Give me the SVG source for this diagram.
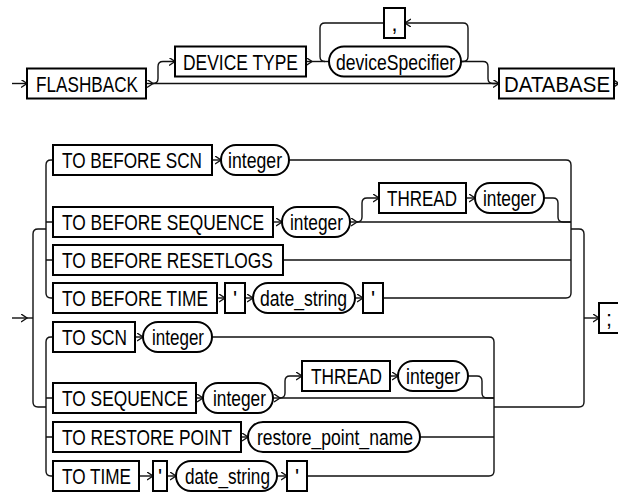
<svg xmlns="http://www.w3.org/2000/svg" width="618" height="495" viewBox="0 0 618 495">
<style>
  .box { fill: #fff; stroke: #000; stroke-width: 2; }
  .ov { fill: #fff; stroke: #000; stroke-width: 2; }
  .ln { fill: none; stroke: #111; stroke-width: 1.4; }
  .ar { fill: none; stroke: #111; stroke-width: 1.4; marker-end: url(#arr); }
  text { font-family: "Liberation Sans", Arial, sans-serif; font-size: 21.5px; fill: #000; }
  .c { text-anchor: middle; }
</style>
<defs>
  <marker id="arr" markerWidth="8" markerHeight="10" refX="6" refY="4" orient="auto" markerUnits="userSpaceOnUse">
    <path d="M0,0 L6,4 L0,8" fill="none" stroke="#111" stroke-width="1.4"/>
  </marker>
</defs>
<rect width="618" height="495" fill="#fff"/>

<g id="connectors">
  <path class="ar" d="M12,83.5 H27"/>
  <path class="ar" d="M146,83.5 H153"/>
  <path class="ar" d="M153,83.5 H499"/>
  <path class="ar" d="M153,83.5 q5,0 5,-5 V66.5 q0,-5 5,-5 H175"/>
  <path class="ar" d="M306,61.5 H312"/>
  <path class="ln" d="M312,61.5 H329"/>
  <path class="ar" d="M461,61.5 H463 q5,0 5,-5 V28 q0,-5 -5,-5 H405"/>
  <path class="ln" d="M384,23 H325 q-5,0 -5,5 V56.5 q0,5 5,5"/>
  <path class="ln" d="M461,61.5 H483 q5,0 5,5 V78.5 q0,5 5,5 H499"/>
  <path class="ar" d="M614,83.5 H619"/>

  <path class="ar" d="M12,318 H27"/>
  <path class="ln" d="M27,318 H33"/>
  <path class="ln" d="M46,229 H38 q-5,0 -5,5 V402 q0,5 5,5 H46"/>
  <path class="ln" d="M53,160 H51 q-5,0 -5,5 V293 q0,5 5,5 H53"/>
  <path class="ln" d="M46,222 H53 M46,260 H53"/>
  <path class="ln" d="M53,337 H51 q-5,0 -5,5 V471 q0,5 5,5 H53"/>
  <path class="ln" d="M46,398 H53 M46,437 H53"/>

  <path class="ar" d="M212,160 H221"/>
  <path class="ar" d="M273,222 H282"/>
  <path class="ar" d="M350,222 H357"/>
  <path class="ln" d="M357,222 H571"/>
  <path class="ar" d="M357,222 q5,0 5,-5 V203 q0,-5 5,-5 H379"/>
  <path class="ar" d="M466,198 H475"/>
  <path class="ln" d="M544,198 H553 q5,0 5,5 V217 q0,5 5,5 H571"/>
  <path class="ln" d="M283,260 H571"/>
  <path class="ar" d="M217,298 H225"/>
  <path class="ar" d="M245,298 H253"/>
  <path class="ar" d="M355,298 H363"/>
  <path class="ln" d="M289,160 H566 q5,0 5,5 V293 q0,5 -5,5 H383"/>

  <path class="ln" d="M571,229 H579 q5,0 5,5 V402 q0,5 -5,5 H494"/>
  <path class="ar" d="M584,318 H599"/>

  <path class="ar" d="M135,337 H143"/>
  <path class="ar" d="M196,398 H203"/>
  <path class="ar" d="M273,398 H280"/>
  <path class="ln" d="M280,398 H494"/>
  <path class="ar" d="M280,398 q5,0 5,-5 V381 q0,-5 5,-5 H302"/>
  <path class="ar" d="M390,376 H398"/>
  <path class="ln" d="M468,376 H477 q5,0 5,5 V393 q0,5 5,5 H494"/>
  <path class="ar" d="M241,437 H248"/>
  <path class="ln" d="M420,437 H494"/>
  <path class="ar" d="M139,476 H153"/>
  <path class="ar" d="M167,476 H176"/>
  <path class="ar" d="M277,476 H287"/>
  <path class="ln" d="M212,337 H489 q5,0 5,5 V471 q0,5 -5,5 H307"/>
</g>

<g id="n-flashback"><rect class="box" x="27" y="68.5" width="119" height="30"/><text transform="translate(36,91.5) scale(0.86,1)" textLength="118.6" lengthAdjust="spacingAndGlyphs">FLASHBACK</text></g>
<g id="n-devicetype"><rect class="box" x="175" y="46.5" width="131" height="30"/><text transform="translate(183,69.5) scale(0.86,1)" textLength="133.7" lengthAdjust="spacingAndGlyphs">DEVICE TYPE</text></g>
<g id="n-devicespecifier"><rect class="ov" x="329" y="46.5" width="132" height="30" rx="15" ry="15"/><text transform="translate(336,69.5) scale(0.86,1)" textLength="138.4" lengthAdjust="spacingAndGlyphs">deviceSpecifier</text></g>
<g id="n-comma"><rect class="box" x="384" y="8" width="21" height="30"/><text class="c" x="394.5" y="31">,</text></g>
<g id="n-database"><rect class="box" x="499" y="68.5" width="115" height="30"/><text transform="translate(504,91.5) scale(0.86,1)" textLength="123.3" lengthAdjust="spacingAndGlyphs">DATABASE</text></g>

<g id="n-tobeforescn"><rect class="box" x="53" y="145" width="159" height="30"/><text transform="translate(62,168) scale(0.86,1)" textLength="162.8" lengthAdjust="spacingAndGlyphs">TO BEFORE SCN</text></g>
<g id="n-integer1"><rect class="ov" x="221" y="145" width="68" height="30" rx="15" ry="15"/><text transform="translate(228,168) scale(0.86,1)" textLength="62.8" lengthAdjust="spacingAndGlyphs">integer</text></g>
<g id="n-tobeforesequence"><rect class="box" x="53" y="207" width="220" height="30"/><text transform="translate(62,230) scale(0.86,1)" textLength="234.9" lengthAdjust="spacingAndGlyphs">TO BEFORE SEQUENCE</text></g>
<g id="n-integer2"><rect class="ov" x="282" y="207" width="68" height="30" rx="15" ry="15"/><text transform="translate(290,230) scale(0.86,1)" textLength="61.6" lengthAdjust="spacingAndGlyphs">integer</text></g>
<g id="n-thread1"><rect class="box" x="379" y="183" width="87" height="30"/><text transform="translate(387,206) scale(0.86,1)" textLength="81.4" lengthAdjust="spacingAndGlyphs">THREAD</text></g>
<g id="n-integer3"><rect class="ov" x="475" y="183" width="69" height="30" rx="15" ry="15"/><text transform="translate(483,206) scale(0.86,1)" textLength="61.6" lengthAdjust="spacingAndGlyphs">integer</text></g>
<g id="n-tobeforeresetlogs"><rect class="box" x="53" y="245" width="230" height="30"/><text transform="translate(62,268) scale(0.86,1)" textLength="245.3" lengthAdjust="spacingAndGlyphs">TO BEFORE RESETLOGS</text></g>
<g id="n-tobeforetime"><rect class="box" x="53" y="283" width="164" height="30"/><text transform="translate(62,306) scale(0.86,1)" textLength="169.8" lengthAdjust="spacingAndGlyphs">TO BEFORE TIME</text></g>
<g id="n-quote1"><rect class="box" x="225" y="283" width="20" height="30"/><text class="c" x="235" y="306">'</text></g>
<g id="n-datestring1"><rect class="ov" x="253" y="283" width="102" height="30" rx="15" ry="15"/><text transform="translate(260,306) scale(0.86,1)" textLength="101.2" lengthAdjust="spacingAndGlyphs">date_string</text></g>
<g id="n-quote2"><rect class="box" x="363" y="283" width="20" height="30"/><text class="c" x="373" y="306">'</text></g>

<g id="n-toscn"><rect class="box" x="53" y="322" width="82" height="30"/><text transform="translate(62,345) scale(0.86,1)" textLength="75.6" lengthAdjust="spacingAndGlyphs">TO SCN</text></g>
<g id="n-integer4"><rect class="ov" x="143" y="322" width="69" height="30" rx="15" ry="15"/><text transform="translate(152,345) scale(0.86,1)" textLength="60.5" lengthAdjust="spacingAndGlyphs">integer</text></g>
<g id="n-tosequence"><rect class="box" x="53" y="383" width="143" height="30"/><text transform="translate(62,406) scale(0.86,1)" textLength="146.5" lengthAdjust="spacingAndGlyphs">TO SEQUENCE</text></g>
<g id="n-integer5"><rect class="ov" x="203" y="383" width="70" height="30" rx="15" ry="15"/><text transform="translate(213,406) scale(0.86,1)" textLength="61.6" lengthAdjust="spacingAndGlyphs">integer</text></g>
<g id="n-thread2"><rect class="box" x="302" y="361" width="88" height="30"/><text transform="translate(311,384) scale(0.86,1)" textLength="82.6" lengthAdjust="spacingAndGlyphs">THREAD</text></g>
<g id="n-integer6"><rect class="ov" x="398" y="361" width="70" height="30" rx="15" ry="15"/><text transform="translate(406,384) scale(0.86,1)" textLength="62.8" lengthAdjust="spacingAndGlyphs">integer</text></g>
<g id="n-torestorepoint"><rect class="box" x="53" y="422" width="188" height="30"/><text transform="translate(62,445) scale(0.86,1)" textLength="197.7" lengthAdjust="spacingAndGlyphs">TO RESTORE POINT</text></g>
<g id="n-restorepointname"><rect class="ov" x="248" y="422" width="172" height="30" rx="15" ry="15"/><text transform="translate(257,445) scale(0.86,1)" textLength="181.4" lengthAdjust="spacingAndGlyphs">restore_point_name</text></g>
<g id="n-totime"><rect class="box" x="53" y="461" width="86" height="30"/><text transform="translate(62,484) scale(0.86,1)" textLength="80.2" lengthAdjust="spacingAndGlyphs">TO TIME</text></g>
<g id="n-quote3"><rect class="box" x="153" y="461" width="14" height="30"/><text class="c" x="160" y="484">'</text></g>
<g id="n-datestring2"><rect class="ov" x="176" y="461" width="101" height="30" rx="15" ry="15"/><text transform="translate(185,484) scale(0.86,1)" textLength="98.8" lengthAdjust="spacingAndGlyphs">date_string</text></g>
<g id="n-quote4"><rect class="box" x="287" y="461" width="20" height="30"/><text class="c" x="297" y="484">'</text></g>

<g id="n-semicolon"><rect class="box" x="599" y="303" width="20" height="30"/><text class="c" x="609" y="326">;</text></g>
</svg>
